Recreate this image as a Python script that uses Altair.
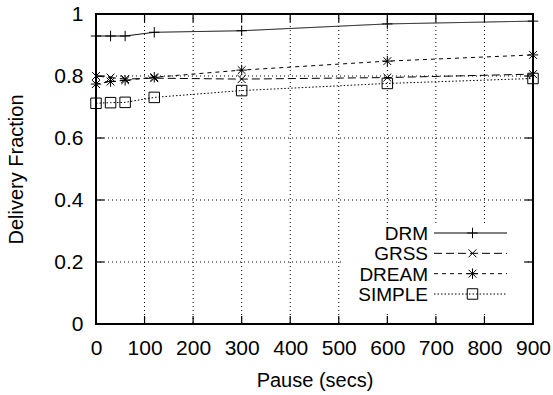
import altair as alt
import pandas as pd

# ---- data ----
pause = [0, 30, 60, 120, 300, 600, 900]
series = ["DRM", "GRSS", "DREAM", "SIMPLE"]
drm = [0.929, 0.929, 0.929, 0.941, 0.946, 0.968, 0.977]
grss = [0.800, 0.795, 0.790, 0.793, 0.790, 0.795, 0.806]
dream = [0.774, 0.782, 0.786, 0.796, 0.819, 0.848, 0.868]
simple = [0.712, 0.714, 0.715, 0.731, 0.753, 0.776, 0.792]
x_ticks = [0, 100, 200, 300, 400, 500, 600, 700, 800, 900]
y_ticks = [0, 0.2, 0.4, 0.6, 0.8, 1]

vals = {"DRM": drm, "GRSS": grss, "DREAM": dream, "SIMPLE": simple}
df = pd.DataFrame(
    [{"pause": p, "value": v, "series": s} for s in series for p, v in zip(pause, vals[s])]
)
xt = pd.DataFrame({"pause": x_ticks})
yt = pd.DataFrame({"value": y_ticks})
xg = pd.DataFrame({"pause": x_ticks[1:-1]})
yg = pd.DataFrame({"value": y_ticks[1:-1]})
leg = pd.DataFrame({"series": series})

W, H = 437, 310
FONT = "Liberation Sans"
LFS = 21   # tick labels
GFS = 19   # legend
TFS = 20   # axis titles

dash_scale = alt.Scale(domain=series, range=[[1, 0], [8, 4], [4, 4], [1.5, 2]])
shape_scale = alt.Scale(
    domain=series,
    range=[
        "M-1,0L1,0M0,-1L0,1",
        "M-0.75,-0.75L0.75,0.75M-0.75,0.75L0.75,-0.75",
        "M-1,0L1,0M0,-1L0,1M-0.75,-0.75L0.75,0.75M-0.75,0.75L0.75,-0.75",
        "M-1,-1L1,-1L1,1L-1,1Z",
    ],
)

xscale = alt.Scale(domain=[0, 900], nice=False, zero=False)
yscale = alt.Scale(domain=[0, 1], nice=False)

x_axis = alt.Axis(
    values=x_ticks, title="Pause (secs)", grid=False, ticks=False, domain=False,
    labelFontSize=LFS, titleFontSize=TFS, labelFont=FONT, titleFont=FONT,
    labelColor="black", titleColor="black", titleFontWeight="normal",
    labelPadding=13, titlePadding=12, labelFlush=False,
)
y_axis = alt.Axis(
    values=y_ticks, title="Delivery Fraction", grid=False, ticks=False, domain=False,
    labelFontSize=LFS, titleFontSize=TFS, labelFont=FONT, titleFont=FONT,
    labelColor="black", titleColor="black", titleFontWeight="normal",
    labelPadding=13, titlePadding=27, labelFlush=False,
    labelExpr="datum.value == 0 ? '0' : datum.value == 1 ? '1' : format(datum.value, '.1f')",
)

X = alt.X("pause:Q", scale=xscale, axis=x_axis)

# ---- group A: grid + data ----
gridx = alt.Chart(xg).mark_rule(color="black", strokeDash=[1, 3], strokeWidth=1).encode(
    x=X, y=alt.value(0), y2=alt.value(H)
)
gridy = alt.Chart(yg).mark_rule(color="black", strokeDash=[1, 3], strokeWidth=1).encode(
    y=alt.Y("value:Q", scale=yscale, axis=y_axis), x=alt.value(0), x2=alt.value(W)
)
lines = alt.Chart(df).mark_line(color="black", strokeWidth=1).encode(
    x=X,
    y=alt.Y("value:Q", scale=yscale, axis=y_axis),
    strokeDash=alt.StrokeDash("series:N", scale=dash_scale, legend=None),
    detail="series:N",
)
points = alt.Chart(df).mark_point(filled=False, color="black", strokeWidth=1, size=110, opacity=1).encode(
    x=X,
    y=alt.Y("value:Q", scale=yscale, axis=y_axis),
    shape=alt.Shape("series:N", scale=shape_scale, legend=None),
)
group_a = alt.layer(gridx, gridy, lines, points)

# ---- group B: legend ----
leg_y = alt.Y("series:N", scale=alt.Scale(type="point", domain=series, range=[219, 280], padding=0), axis=None)
leg_box = alt.Chart(leg).mark_rect(fill="white", stroke=None).encode(
    x=alt.value(246), x2=alt.value(425), y=alt.value(211), y2=alt.value(300)
)
leg_text = alt.Chart(leg).mark_text(align="right", baseline="middle", font=FONT, fontSize=GFS, color="black", dy=1).encode(
    x=alt.value(332), y=leg_y, text="series:N"
)
leg_line = alt.Chart(leg).mark_rule(color="black", strokeWidth=1).encode(
    x=alt.value(338), x2=alt.value(411), y=leg_y,
    strokeDash=alt.StrokeDash("series:N", scale=dash_scale, legend=None),
)
leg_pt = alt.Chart(leg).mark_point(filled=False, color="black", strokeWidth=1, size=110, opacity=1).encode(
    x=alt.value(376.5), y=leg_y,
    shape=alt.Shape("series:N", scale=shape_scale, legend=None),
)
group_b = alt.layer(leg_box, leg_text, leg_line, leg_pt)

# ---- group C: frame + inward ticks ----
frame = alt.Chart(leg).mark_rect(fill=None, stroke="black", strokeWidth=1.8).encode(
    x=alt.value(0), x2=alt.value(W), y=alt.value(0), y2=alt.value(H)
)
tb = alt.Chart(xt).mark_rule(color="black", strokeWidth=1.2).encode(
    x=X, y=alt.value(H), y2=alt.value(H - 8)
)
tt = alt.Chart(xt).mark_rule(color="black", strokeWidth=1.2).encode(
    x=X, y=alt.value(0), y2=alt.value(8)
)
tl = alt.Chart(yt).mark_rule(color="black", strokeWidth=1.2).encode(
    y=alt.Y("value:Q", scale=yscale, axis=None), x=alt.value(0), x2=alt.value(8)
)
tr = alt.Chart(yt).mark_rule(color="black", strokeWidth=1.2).encode(
    y=alt.Y("value:Q", scale=yscale, axis=None), x=alt.value(W), x2=alt.value(W - 8)
)
group_c = alt.layer(frame, tb, tt, tl, tr)

chart = (
    alt.layer(group_a, group_b, group_c)
    .resolve_scale(y="independent")
    .properties(
        width=W, height=H,
        autosize=alt.AutoSizeParams(type="none"),
        padding={"left": 96, "top": 14, "right": 20, "bottom": 71},
        background="white",
    )
    .configure_view(stroke=None)
)

chart.save("out.html", embed_options={"renderer": "svg", "actions": False})
